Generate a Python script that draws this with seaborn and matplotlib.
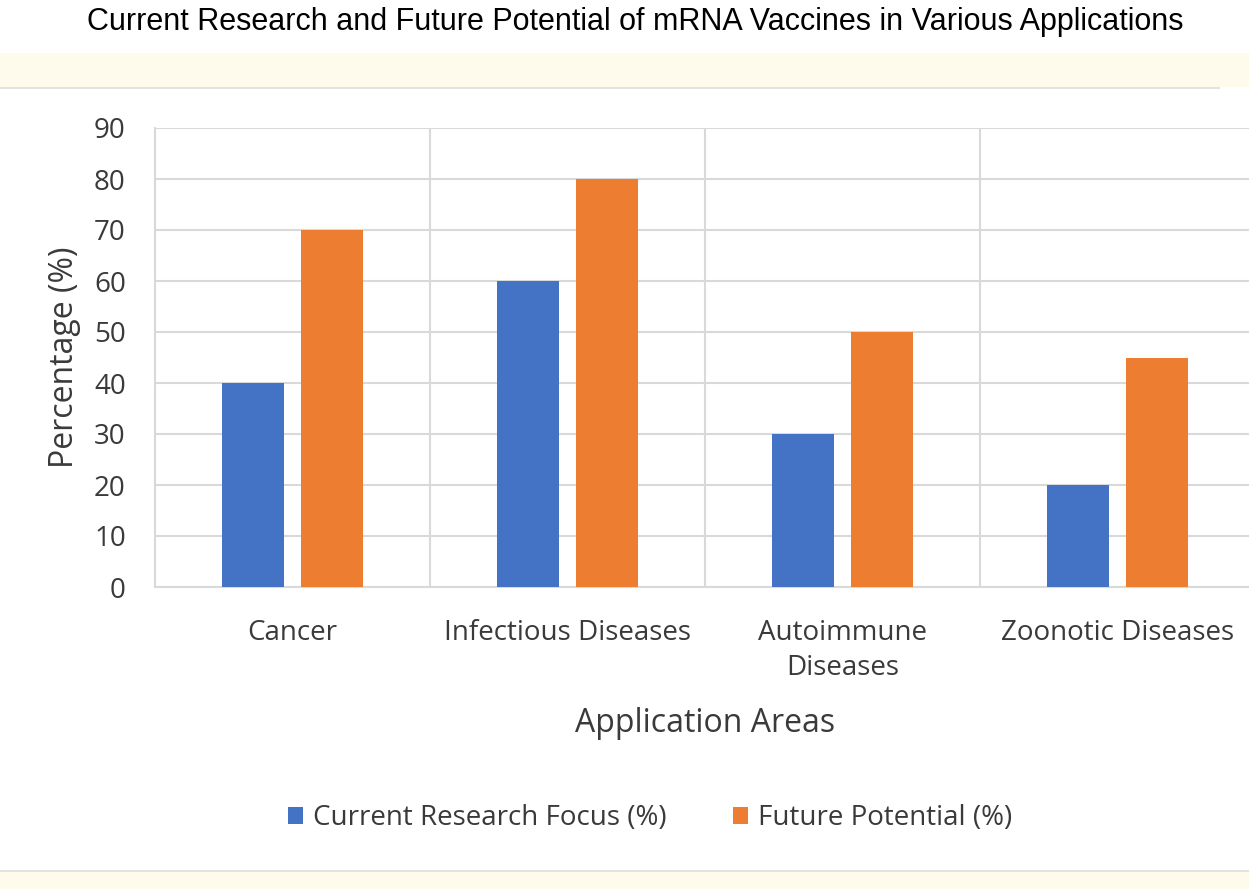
import pandas as pd
import seaborn as sns
import matplotlib.pyplot as plt
from matplotlib.patches import Rectangle

categories = ["Cancer", "Infectious Diseases", "Autoimmune\nDiseases", "Zoonotic Diseases"]
current_focus = [40, 60, 30, 20]
future_potential = [70, 80, 50, 45]
series_names = ["Current Research Focus (%)", "Future Potential (%)"]
y_ticks = [0, 10, 20, 30, 40, 50, 60, 70, 80, 90]

df = pd.DataFrame({
    "Area": categories * 2,
    "Value": current_focus + future_potential,
    "Series": [series_names[0]] * 4 + [series_names[1]] * 4,
})

sns.set_theme(style="white")
plt.rcParams['font.family'] = ['Open Sans', 'DejaVu Sans']

W, H = 1249, 889
fig = plt.figure(figsize=(W / 100, H / 100), dpi=100)
fig.patch.set_facecolor("white")

# pale bands of the screenshot
fig.patches.append(Rectangle((0, 1 - 87 / H), 1, 34 / H, transform=fig.transFigure,
                             facecolor="#fefbed", edgecolor="none", zorder=0))
fig.patches.append(Rectangle((0, 1 - 89 / H), 1220 / W, 2 / H, transform=fig.transFigure,
                             facecolor="#e2e2e2", edgecolor="none", zorder=0))
fig.patches.append(Rectangle((0, 0), 1, 17 / H, transform=fig.transFigure,
                             facecolor="#fefbed", edgecolor="none", zorder=0))
fig.patches.append(Rectangle((0, 17 / H), 1, 2 / H, transform=fig.transFigure,
                             facecolor="#e2e2e2", edgecolor="none", zorder=0))

left, right, top, bottom = 155, 1255, 128, 587
ax = fig.add_axes([left / W, 1 - bottom / H, (right - left) / W, (bottom - top) / H])
ax.set_facecolor("none")

sns.barplot(data=df, x="Area", y="Value", hue="Series",
            palette=["#4472c4", "#ed7d31"], saturation=1, width=0.575, gap=0.22,
            linewidth=0, edgecolor="none", ax=ax, zorder=3, legend=True)

ax.set_ylim(0, 90)
ax.set_xlim(-0.5, 3.5)
ax.set_yticks(y_ticks)
ax.set_xticks([0.5, 1.5, 2.5], minor=True)
ax.grid(axis="y", which="major", color="#d9d9d9", linewidth=1.5, zorder=0)
ax.grid(axis="x", which="minor", color="#d9d9d9", linewidth=1.5, zorder=0)
ax.set_axisbelow(True)
for s in ["top", "right"]:
    ax.spines[s].set_visible(False)
for s in ["left", "bottom"]:
    ax.spines[s].set_color("#d9d9d9")
    ax.spines[s].set_linewidth(1.5)
ax.tick_params(axis="both", which="both", length=0, labelsize=20, colors="#3a3a3a")
ax.tick_params(axis="y", pad=21)
ax.tick_params(axis="x", pad=23)
for t in ax.get_xticklabels():
    t.set_linespacing(1.35)

ax.set_xlabel("Application Areas", fontsize=23, color="#3a3a3a", labelpad=18)
ax.set_ylabel("Percentage (%)", fontsize=23, color="#3a3a3a", labelpad=9)

leg = ax.legend(loc="center", bbox_to_anchor=(650 / W, 1 - 818 / H),
                bbox_transform=fig.transFigure, ncol=2, frameon=False,
                fontsize=20, handlelength=0.55, handleheight=0.55,
                handletextpad=0.35, columnspacing=2.4, labelcolor="#3a3a3a")

fig.text(635 / W, 1 - 22 / H,
         "Current Research and Future Potential of mRNA Vaccines in Various Applications",
         ha="center", va="center", fontsize=22, family="Liberation Sans", color="black")

fig.savefig("out.png", dpi=100)
